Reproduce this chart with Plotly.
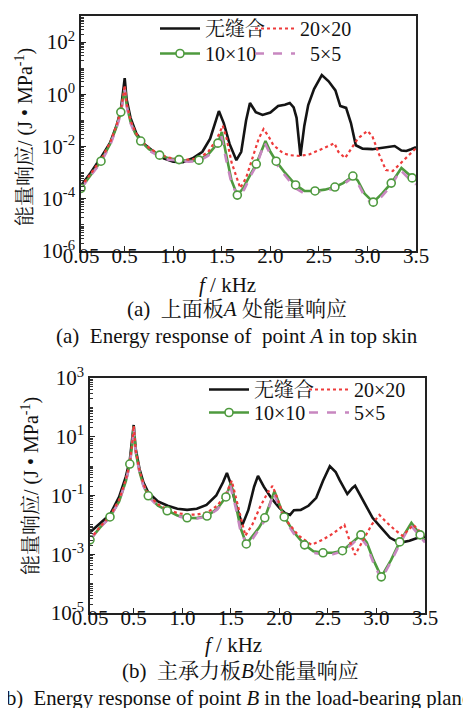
import plotly.graph_objects as go

# ---------------- data (frequency in kHz, response as log10 of J/MPa) ----------------
tick_f = [0.05, 0.5, 1.0, 1.5, 2.0, 2.5, 3.0, 3.5]
tick_f_text = ["0.05", "0.5", "1.0", "1.5", "2.0", "2.5", "3.0", "3.5"]

series_names = ["无缝合", "20×20", "10×10", "5×5"]

# ---- (a) top skin, point A ----
a_black_f = [0.05, 0.15, 0.25, 0.35, 0.42, 0.46, 0.49, 0.50, 0.52, 0.56, 0.62, 0.70, 0.80, 0.90,
             1.00, 1.10, 1.20, 1.30, 1.38, 1.44, 1.47, 1.52, 1.58, 1.65, 1.70, 1.75, 1.79, 1.85,
             1.92, 2.00, 2.08, 2.15, 2.20, 2.24, 2.27, 2.31, 2.35, 2.39, 2.45, 2.53, 2.60, 2.67,
             2.72, 2.78, 2.83, 2.88, 2.95, 3.05, 3.15, 3.28, 3.35, 3.40, 3.45, 3.50]
a_black_lg = [-3.5, -3.0, -2.45, -1.85, -1.15, -0.6, 0.3, 0.62, -0.2, -0.9, -1.5, -1.9, -2.2, -2.45,
              -2.58, -2.6, -2.45, -2.2, -1.7, -1.0, -0.64, -1.1, -1.9, -2.52, -2.2, -1.0, -0.33, -0.68,
              -0.79, -0.7, -0.45, -0.4, -0.33, -0.5, -0.9, -2.36, -1.2, -0.41, 0.2, 0.74, 0.5, 0.15,
              -0.45, -0.52, -1.1, -1.95, -2.08, -2.1, -2.05, -1.98, -2.15, -2.17, -2.1, -2.02]

a_red_f = [0.05, 0.15, 0.256, 0.35, 0.41, 0.46, 0.49, 0.50, 0.52, 0.56, 0.61, 0.665, 0.75, 0.86,
           0.95, 1.06, 1.16, 1.265, 1.36, 1.45, 1.51, 1.55, 1.60, 1.69, 1.75, 1.82, 1.88, 1.93,
           1.98, 2.03, 2.13, 2.20, 2.30, 2.40, 2.50, 2.60, 2.66, 2.70, 2.77, 2.83, 2.90, 3.00,
           3.05, 3.12, 3.19, 3.26, 3.35, 3.43, 3.50]
a_red_lg = [-3.55, -3.05, -2.5, -1.85, -1.25, -0.65, 0.1, 0.35, -0.35, -1.0, -1.45, -1.75, -2.05, -2.3,
            -2.42, -2.48, -2.5, -2.45, -2.2, -1.7, -1.2, -1.7, -2.6, -3.59, -3.2, -2.4, -1.7, -1.33,
            -1.6, -1.94, -2.25, -2.33, -2.36, -2.3, -2.15, -1.98, -1.87, -2.2, -2.44, -2.1, -1.7, -1.4,
            -1.6, -2.3, -2.9, -2.94, -2.6, -2.3, -2.06]

a_green_f = [0.05, 0.15, 0.256, 0.35, 0.41, 0.46, 0.49, 0.50, 0.52, 0.56, 0.61, 0.665, 0.75, 0.86,
             0.95, 1.06, 1.16, 1.265, 1.36, 1.46, 1.50, 1.55, 1.60, 1.66, 1.72, 1.79, 1.855, 1.95,
             2.00, 2.06, 2.15, 2.26, 2.35, 2.46, 2.56, 2.665, 2.75, 2.85, 2.90, 2.97, 3.06, 3.15,
             3.245, 3.35, 3.46, 3.50]
a_green_lg = [-3.6, -3.1, -2.56, -1.9, -1.3, -0.68, 0.0, 0.24, -0.4, -1.05, -1.5, -1.79, -2.1, -2.33,
              -2.45, -2.5, -2.55, -2.52, -2.3, -1.87, -1.44, -2.4, -3.3, -3.86, -3.6, -3.1, -2.67, -1.79,
              -2.2, -2.56, -3.0, -3.47, -3.7, -3.7, -3.65, -3.55, -3.4, -3.13, -3.3, -3.8, -4.13, -3.8,
              -3.4, -2.82, -3.2, -3.3]
a_green_mark = [1, 0, 1, 0, 0, 1, 0, 0, 0, 0, 0, 1, 0, 1,
                0, 1, 0, 1, 0, 1, 0, 0, 0, 1, 0, 0, 1, 0,
                0, 1, 0, 1, 0, 1, 0, 1, 0, 1, 0, 0, 1, 0,
                1, 0, 1, 0]

a_pink_f = [0.05, 0.15, 0.256, 0.35, 0.41, 0.46, 0.49, 0.50, 0.52, 0.56, 0.61, 0.665, 0.75, 0.86,
            0.95, 1.06, 1.16, 1.265, 1.36, 1.46, 1.49, 1.55, 1.60, 1.67, 1.73, 1.80, 1.86, 1.94,
            2.00, 2.06, 2.15, 2.26, 2.35, 2.46, 2.56, 2.665, 2.75, 2.84, 2.90, 2.97, 3.06, 3.15,
            3.245, 3.34, 3.46, 3.50]
a_pink_lg = [-3.6, -3.1, -2.6, -1.95, -1.35, -0.75, -0.05, 0.2, -0.45, -1.1, -1.55, -1.83, -2.15, -2.38,
             -2.5, -2.55, -2.58, -2.55, -2.35, -1.9, -1.5, -2.6, -3.4, -3.95, -3.65, -3.1, -2.7, -1.85,
             -2.3, -2.65, -3.1, -3.6, -3.8, -3.75, -3.7, -3.6, -3.45, -3.2, -3.4, -3.9, -4.25, -3.9,
             -3.5, -2.9, -3.35, -3.45]

# ---- (b) load-bearing plane, point B ----
b_black_f = [0.05, 0.15, 0.256, 0.35, 0.42, 0.46, 0.49, 0.50, 0.52, 0.56, 0.60, 0.65, 0.75, 0.85,
             0.95, 1.05, 1.15, 1.25, 1.35, 1.42, 1.46, 1.50, 1.55, 1.62, 1.68, 1.74, 1.78, 1.84,
             1.92, 2.00, 2.06, 2.11, 2.15, 2.22, 2.30, 2.38, 2.45, 2.52, 2.58, 2.62, 2.70, 2.75,
             2.78, 2.85, 2.96, 3.05, 3.14, 3.24, 3.34, 3.42, 3.50]
b_black_lg = [-2.25, -1.95, -1.65, -1.05, -0.35, 0.2, 1.0, 1.4, 0.6, -0.1, -0.55, -0.9, -1.2, -1.35,
              -1.45, -1.49, -1.45, -1.32, -1.0, -0.55, -0.23, -0.6, -1.3, -2.0, -1.5, -0.7, -0.33, -0.7,
              -1.1, -1.42, -1.6, -1.66, -1.5, -1.49, -1.35, -1.08, -0.5, 0.0, -0.2, -0.47, -0.95, -0.75,
              -0.67, -1.1, -1.76, -2.1, -2.44, -2.61, -2.54, -2.45, -2.4]

b_red_f = [0.05, 0.15, 0.256, 0.35, 0.42, 0.46, 0.49, 0.50, 0.52, 0.56, 0.60, 0.65, 0.75, 0.845,
           0.95, 1.05, 1.15, 1.255, 1.36, 1.45, 1.51, 1.56, 1.65, 1.72, 1.80, 1.88, 1.93, 1.98,
           2.05, 2.12, 2.20, 2.33, 2.45, 2.55, 2.67, 2.72, 2.78, 2.85, 2.95, 3.03, 3.10, 3.20,
           3.27, 3.38, 3.44, 3.50]
b_red_lg = [-2.5, -2.08, -1.7, -1.15, -0.45, 0.1, 0.95, 1.38, 0.55, -0.15, -0.6, -0.97, -1.3, -1.47,
            -1.6, -1.65, -1.65, -1.58, -1.35, -0.95, -0.5, -1.2, -2.37, -2.0, -1.4, -0.9, -0.67, -1.1,
            -1.76, -2.05, -2.37, -2.68, -2.5, -2.3, -2.0, -2.5, -3.02, -2.6, -2.0, -1.66, -1.9, -2.2,
            -2.37, -2.0, -2.2, -2.44]

b_green_f = [0.05, 0.15, 0.256, 0.35, 0.42, 0.46, 0.49, 0.50, 0.52, 0.56, 0.60, 0.65, 0.75, 0.845,
             0.95, 1.05, 1.15, 1.255, 1.36, 1.45, 1.50, 1.55, 1.60, 1.66, 1.72, 1.79, 1.85, 1.95,
             2.00, 2.05, 2.15, 2.26, 2.35, 2.45, 2.55, 2.65, 2.75, 2.84, 2.90, 2.97, 3.05, 3.15,
             3.24, 3.36, 3.45, 3.50]
b_green_lg = [-2.51, -2.1, -1.73, -1.2, -0.5, 0.07, 0.9, 1.35, 0.5, -0.2, -0.65, -1.01, -1.35, -1.52,
              -1.68, -1.76, -1.77, -1.7, -1.45, -1.05, -0.57, -1.3, -2.1, -2.65, -2.4, -2.1, -1.76, -0.85,
              -1.3, -1.73, -2.25, -2.68, -2.9, -2.95, -2.95, -2.88, -2.6, -2.34, -2.6, -3.2, -3.77, -3.2,
              -2.58, -1.93, -2.34, -2.54]
b_green_mark = [1, 0, 1, 0, 0, 1, 0, 0, 0, 0, 0, 1, 0, 1,
                0, 1, 0, 1, 0, 1, 0, 0, 0, 1, 0, 0, 1, 0,
                0, 1, 0, 1, 0, 1, 0, 1, 0, 1, 0, 0, 1, 0,
                1, 0, 1, 0]

b_pink_f = [0.05, 0.15, 0.256, 0.35, 0.42, 0.46, 0.49, 0.50, 0.52, 0.56, 0.60, 0.65, 0.75, 0.845,
            0.95, 1.05, 1.15, 1.255, 1.36, 1.45, 1.49, 1.55, 1.60, 1.67, 1.73, 1.80, 1.86, 1.94,
            2.00, 2.05, 2.15, 2.26, 2.35, 2.45, 2.55, 2.65, 2.75, 2.83, 2.90, 2.97, 3.05, 3.15,
            3.24, 3.35, 3.45, 3.50]
b_pink_lg = [-2.5, -2.1, -1.75, -1.2, -0.5, 0.05, 0.9, 1.35, 0.5, -0.2, -0.67, -1.03, -1.37, -1.55,
             -1.7, -1.78, -1.78, -1.72, -1.48, -1.08, -0.6, -1.4, -2.2, -2.72, -2.45, -2.1, -1.8, -0.9,
             -1.4, -1.8, -2.3, -2.72, -2.95, -3.0, -3.0, -2.9, -2.65, -2.4, -2.7, -3.3, -3.85, -3.25,
             -2.65, -2.0, -2.4, -2.6]

a_range = [-6, 3]
a_labeled = [2, 0, -2, -4, -6]
b_range = [-5, 3]
b_labeled = [3, 1, -1, -3, -5]

# ---------------- styles ----------------
FONT = "Liberation Serif, 'Times New Roman', 'Noto Serif CJK SC', 'Noto Sans CJK SC', serif"
C_BLACK = "#141414"
C_RED = "#ee3b3b"
C_GREEN = "#4e9a3e"
C_PINK = "#c887c0"

def E(lg):
    return [10 ** v for v in lg]

fig = go.Figure()

def add_panel(xa, ya, leg_row1, leg_row2, names, col1_w, col2_w,
              blk_f, blk, red_f, red, grn_f, grn, grn_mark, pnk_f, pnk):
    fig.add_trace(go.Scatter(x=blk_f, y=E(blk), mode="lines", xaxis=xa, yaxis=ya, showlegend=False,
                             line=dict(color=C_BLACK, width=2.6)))
    fig.add_trace(go.Scatter(x=grn_f, y=E(grn), mode="lines", xaxis=xa, yaxis=ya, showlegend=False,
                             line=dict(color=C_GREEN, width=2.6)))
    fig.add_trace(go.Scatter(x=pnk_f, y=E(pnk), mode="lines", xaxis=xa, yaxis=ya, showlegend=False,
                             line=dict(color=C_PINK, width=2.6, dash="dash")))
    fig.add_trace(go.Scatter(x=red_f, y=E(red), mode="lines", xaxis=xa, yaxis=ya, showlegend=False,
                             line=dict(color=C_RED, width=2.2, dash="dot")))
    mf = [f for f, m in zip(grn_f, grn_mark) if m]
    mv = [v for v, m in zip(grn, grn_mark) if m]
    fig.add_trace(go.Scatter(x=mf, y=E(mv), mode="markers", xaxis=xa, yaxis=ya, showlegend=False,
                             marker=dict(symbol="circle", size=8, color="white",
                                         line=dict(color=C_GREEN, width=1.6))))
    # legend entries: row 1 (无缝合, 20×20), row 2 (10×10, 5×5)
    styles = [
        dict(mode="lines", line=dict(color=C_BLACK, width=2.6)),
        dict(mode="lines", line=dict(color=C_RED, width=2.2, dash="dot")),
        dict(mode="lines+markers", line=dict(color=C_GREEN, width=2.6),
             marker=dict(symbol="circle", size=8, color="white", line=dict(color=C_GREEN, width=1.6))),
        dict(mode="lines", line=dict(color=C_PINK, width=2.6, dash="dash")),
    ]
    legs = [leg_row1, leg_row1, leg_row2, leg_row2]
    widths = [col1_w, col2_w, col1_w, col2_w]
    for name, st, lg, w in zip(names, styles, legs, widths):
        fig.add_trace(go.Scatter(x=[None], y=[None], name=name, xaxis=xa, yaxis=ya,
                                 legend=lg, legendwidth=w, showlegend=True, **st))

add_panel("x", "y", "legend", "legend2", ["无缝合", "20×20", "10×10", "\u20025×5"], 40, 64,
          a_black_f, a_black_lg, a_red_f, a_red_lg,
          a_green_f, a_green_lg, a_green_mark, a_pink_f, a_pink_lg)
add_panel("x2", "y2", "legend3", "legend4", series_names, 45, 64,
          b_black_f, b_black_lg, b_red_f, b_red_lg,
          b_green_f, b_green_lg, b_green_mark, b_pink_f, b_pink_lg)

W, H = 471, 708
TICKFONT = dict(family=FONT, size=21, color="#111")

def xaxis(dom, anchor):
    return dict(domain=dom, anchor=anchor, range=[0.05, 3.5], tickmode="array",
                tickvals=tick_f, ticktext=tick_f_text, ticks="inside", ticklen=5, tickwidth=1.2,
                tickcolor="#222", showline=True, linecolor="#222", linewidth=1.5, mirror=True,
                showgrid=False, zeroline=False, tickfont=TICKFONT, automargin=False,
                ticklabelstandoff=-15)

def yaxis(dom, anchor, rng, labeled):
    vals = [10.0 ** d for d in labeled]
    txt = ["10<sup>%d</sup>" % d for d in labeled]
    return dict(domain=dom, anchor=anchor, type="log", range=rng,
                tickmode="array", tickvals=vals, ticktext=txt, ticks="inside", ticklen=5,
                tickwidth=1.2, tickcolor="#222", showline=True, linecolor="#222", linewidth=1.5,
                mirror=True, showgrid=False, zeroline=False, automargin=False,
                minor=dict(ticks="inside", ticklen=3, tickwidth=1, tickcolor="#333", dtick="D1",
                           showgrid=False),
                tickfont=TICKFONT)

def legend_row(xpx, ypx):
    return dict(x=xpx / W, y=1 - ypx / H, xanchor="left", yanchor="top", orientation="h",
                itemwidth=40, bgcolor="rgba(0,0,0,0)", borderwidth=0,
                tracegroupgap=0, font=dict(family=FONT, size=20, color="#111"))

fig.update_layout(
    width=W, height=H, margin=dict(l=0, r=0, t=0, b=0, autoexpand=False),
    paper_bgcolor="white", plot_bgcolor="white",
    xaxis=xaxis([73 / W, 408 / W], "y"),
    yaxis=yaxis([1 - 243 / H, 1 - 8 / H], "x", a_range, a_labeled),
    xaxis2=xaxis([82 / W, 417 / W], "y2"),
    yaxis2=yaxis([1 - 605 / H, 1 - 370 / H], "x2", b_range, b_labeled),
    legend=legend_row(147, 1),
    legend2=legend_row(147, 26),
    legend3=legend_row(196, 362),
    legend4=legend_row(196, 385),
    showlegend=True,
)

ann_font = dict(family=FONT, size=21, color="#111")
ytitle = "能量响应/ (J • MPa<sup>-1</sup>)"
annotations = [
    dict(text=ytitle, x=17 / W, y=1 - 129 / H, textangle=-90, font=dict(family=FONT, size=20, color="#111")),
    dict(text=ytitle, x=22 / W, y=1 - 478 / H, textangle=-90, font=dict(family=FONT, size=20, color="#111")),
    dict(text="<i>f</i> / kHz", x=219 / W, y=1 - 277 / H),
    dict(text="<i>f</i> / kHz", x=225 / W, y=1 - 637 / H),
    dict(text="(a)  上面板<i>A</i> 处能量响应", x=229 / W, y=1 - 301 / H),
    dict(text="(a)  Energy response of  point <i>A</i> in top skin", x=229 / W, y=1 - 328 / H),
    dict(text="(b)  主承力板<i>B</i>处能量响应", x=232 / W, y=1 - 663 / H),
    dict(text="(b)  Energy response of point <i>B</i> in the load-bearing plane", x=227 / W, y=1 - 690 / H,
         font=dict(family=FONT, size=20.75, color="#111")),
]
for a in annotations:
    a.setdefault("font", ann_font)
    a.update(xref="paper", yref="paper", showarrow=False, xanchor="center", yanchor="middle")
fig.update_layout(annotations=annotations)

fig.write_html("out.html")
